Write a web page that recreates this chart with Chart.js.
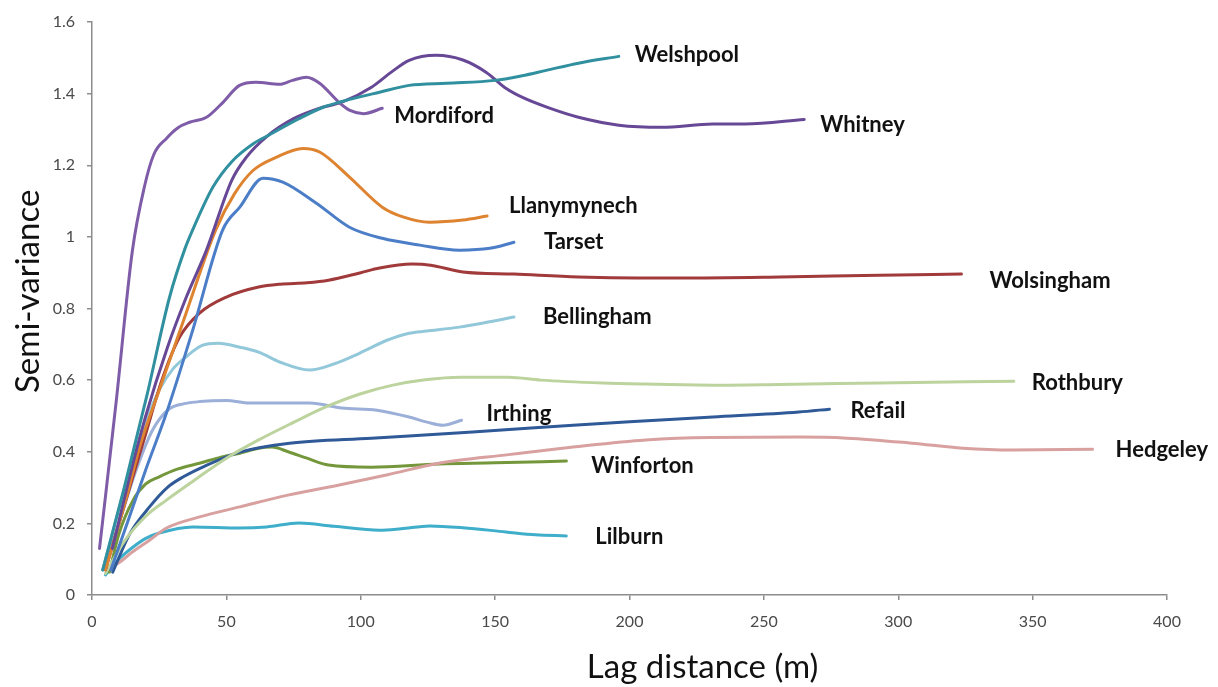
<!DOCTYPE html>
<html>
<head>
<meta charset="utf-8">
<script src="https://cdn.jsdelivr.net/npm/chart.js@4.4.1/dist/chart.umd.min.js"></script>
<style>
  html, body { margin: 0; padding: 0; background: #ffffff; }
  #wrap { width: 1218px; height: 687px; }
</style>
</head>
<body>
<div id="wrap"><canvas id="chart" width="1218" height="687"></canvas></div>
<script>
// Semi-variograms per site: [lag distance (m), semi-variance]
const welshpool = [[4,0.07],[12,0.3],[20.3,0.553],[28.8,0.83],[34.4,0.963],[37.5,1.02],[45,1.139],[52,1.21],[60,1.26],[66,1.285],[77,1.33],[86,1.362],[93,1.378],[107,1.404],[118,1.423],[132,1.429],[150,1.437],[160,1.45],[169,1.465],[181,1.485],[196,1.504]];
const mordiford = [[2.8,0.13],[9,0.54],[15,0.96],[19.5,1.14],[23,1.23],[27.7,1.275],[32,1.305],[36.3,1.32],[42.6,1.334],[48,1.37],[54.9,1.423],[61,1.432],[69.8,1.426],[74.6,1.437],[79.8,1.446],[84.7,1.429],[92,1.375],[96,1.353],[101,1.344],[108,1.359]];
const whitney = [[7.6,0.13],[14,0.33],[20,0.5],[28,0.69],[35,0.83],[42.6,0.963],[52,1.158],[57.4,1.222],[65,1.28],[75,1.33],[85,1.36],[93,1.376],[104,1.418],[111,1.458],[118,1.493],[128,1.507],[138,1.494],[146.6,1.46],[154,1.415],[160,1.39],[170,1.36],[181,1.334],[196,1.312],[212,1.306],[231,1.315],[243,1.315],[265,1.328]];
const llanymynech = [[5,0.07],[12,0.25],[18,0.42],[25,0.572],[35,0.787],[46,1.019],[53,1.12],[60,1.186],[68.5,1.222],[78.5,1.247],[84.7,1.237],[95.8,1.167],[108,1.083],[116,1.055],[125.6,1.041],[138,1.047],[147,1.058]];
const tarset = [[7,0.07],[14,0.22],[20,0.35],[27.7,0.508],[37.5,0.74],[48.6,1.019],[55,1.083],[63.6,1.164],[71,1.153],[83.5,1.094],[95.8,1.027],[108,0.996],[122,0.977],[136.7,0.963],[148,0.968],[157,0.985]];
const wolsingham = [[5,0.07],[12,0.25],[20,0.45],[26,0.6],[32.6,0.72],[40,0.787],[50,0.832],[62,0.86],[70,0.868],[80,0.872],[88,0.879],[100,0.9],[107,0.913],[119,0.924],[126,0.921],[138,0.902],[157,0.896],[181,0.888],[219,0.885],[256,0.888],[293,0.893],[323.5,0.896]];
const bellingham = [[4,0.07],[10,0.24],[16.6,0.413],[25,0.572],[30,0.63],[35,0.665],[41,0.697],[47,0.703],[55,0.692],[62,0.678],[70,0.65],[81,0.628],[90,0.645],[99.5,0.675],[110,0.712],[118,0.731],[124.5,0.737],[136.7,0.748],[146,0.76],[157,0.776]];
const rothbury = [[5,0.06],[12,0.15],[20,0.22],[27.7,0.265],[38,0.32],[50,0.382],[62,0.433],[75,0.482],[87,0.525],[100,0.562],[112,0.586],[124,0.601],[137,0.608],[155,0.608],[167,0.6],[190,0.592],[206,0.589],[231,0.586],[256,0.588],[293,0.592],[343,0.597]];
const refail = [[7.7,0.064],[14,0.17],[21.4,0.246],[28,0.3],[34,0.33],[42,0.36],[55,0.399],[73.5,0.424],[104,0.438],[141.6,0.455],[179,0.474],[200,0.484],[231,0.497],[263,0.511],[274.4,0.519]];
const irthing = [[4,0.07],[10,0.2],[16,0.34],[22.5,0.46],[28.8,0.52],[35,0.535],[40,0.54],[50,0.543],[58.6,0.536],[70,0.536],[81,0.536],[93,0.522],[106,0.516],[118,0.497],[125,0.482],[130.6,0.474],[137.5,0.488]];
const hedgeley = [[5,0.07],[10,0.09],[15,0.12],[21.4,0.153],[27.7,0.187],[40,0.218],[55,0.246],[70,0.274],[92,0.307],[110,0.336],[129,0.368],[155,0.392],[179,0.413],[206,0.433],[230,0.44],[263,0.441],[281,0.438],[305,0.424],[324,0.41],[342.5,0.405],[372.3,0.407]];
const winforton = [[6.5,0.064],[10,0.17],[15.3,0.265],[20,0.31],[25,0.33],[32,0.352],[40,0.368],[48,0.385],[55,0.396],[62,0.41],[67,0.413],[73,0.4],[80,0.382],[88,0.363],[104,0.357],[129,0.366],[150,0.369],[176.5,0.374]];
const lilburn = [[5,0.056],[10,0.1],[15.3,0.134],[20,0.158],[25,0.173],[37.5,0.19],[55,0.187],[65,0.19],[77,0.201],[90,0.192],[107,0.181],[115,0.185],[125.6,0.193],[138,0.188],[154,0.176],[165,0.168],[176.5,0.165]];

const siteNames = ['Welshpool','Mordiford','Whitney','Llanymynech','Tarset','Wolsingham','Bellingham','Rothbury','Refail','Irthing','Hedgeley','Winforton','Lilburn'];
const siteValues = [welshpool, mordiford, whitney, llanymynech, tarset, wolsingham, bellingham, rothbury, refail, irthing, hedgeley, winforton, lilburn];

const xTickLabels = ['0','50','100','150','200','250','300','350','400'];
const yTickLabels = ['0','0.2','0.4','0.6','0.8','1','1.2','1.4','1.6'];

// Line colours and name-label offsets (px from each line's last point)
const lineColors = ['#31909F','#7E5CA8','#674896','#DE8330','#4C7EC8','#A13A3A','#93C8DA','#BCD39E','#2F5997','#9BAFD8','#D9A0A0','#73973A','#3FAECB'];
const labelOffsets = [[16,-1],[12,8],[16,5],[22,-10],[30,0],[28,7],[29,0],[18,2],[21,2],[25,-6],[23,1],[25,5],[29,1]];

const datasets = siteNames.map((name, i) => ({
  label: name,
  data: siteValues[i].map(p => ({ x: p[0], y: p[1] })),
  borderColor: lineColors[i],
  borderWidth: 3,
  pointRadius: 0,
  fill: false,
  cubicInterpolationMode: 'monotone',
  borderCapStyle: 'round',
  borderJoinStyle: 'round'
}));

const AXIS_GREY = '#8c8c8c';
const TICK_TEXT = '#4a4a4a';

// Writes each site's name just past the end of its line
const endLabels = {
  id: 'endLabels',
  afterDatasetsDraw(chart) {
    const ctx = chart.ctx;
    ctx.save();
    ctx.font = 'bold 22px Lato';
    ctx.fillStyle = '#111111';
    ctx.textAlign = 'left';
    ctx.textBaseline = 'middle';
    chart.data.datasets.forEach((ds, i) => {
      const pts = chart.getDatasetMeta(i).data;
      const last = pts[pts.length - 1];
      ctx.fillText(ds.label, last.x + labelOffsets[i][0], last.y + labelOffsets[i][1]);
    });
    ctx.restore();
  }
};

// Axis titles
const axisTitles = {
  id: 'axisTitles',
  afterDraw(chart) {
    const ctx = chart.ctx;
    const area = chart.chartArea;
    ctx.save();
    ctx.fillStyle = '#111111';
    ctx.textAlign = 'center';
    ctx.textBaseline = 'middle';
    ctx.font = '33px Lato';
    ctx.fillText('Lag distance (m)', area.left + (area.right - area.left) * 0.568, 667);
    ctx.translate(28, area.top + (area.bottom - area.top) * 0.47);
    ctx.rotate(-Math.PI / 2);
    ctx.font = '33px Lato';
    ctx.fillText('Semi-variance', 0, 0);
    ctx.restore();
  }
};

new Chart(document.getElementById('chart'), {
  type: 'line',
  data: { datasets },
  options: {
    responsive: false,
    animation: false,
    devicePixelRatio: 1,
    layout: { padding: { left: 0, top: 22, right: 51, bottom: 0 } },
    plugins: { legend: { display: false }, tooltip: { enabled: false } },
    scales: {
      x: {
        type: 'linear',
        min: 0, max: 400,
        afterFit(scale) { scale.height = 92; },
        ticks: {
          stepSize: 50,
          color: TICK_TEXT,
          font: { family: 'Lato', size: 16 },
          padding: 12,
          maxRotation: 0,
          callback: (v, i) => xTickLabels[i]
        },
        grid: { display: true, drawOnChartArea: false, drawTicks: true, tickLength: 5, color: AXIS_GREY, lineWidth: 1.5 },
        border: { display: true, color: AXIS_GREY, width: 1.5 }
      },
      y: {
        type: 'linear',
        min: 0, max: 1.6,
        afterFit(scale) { scale.width = 92; },
        ticks: {
          stepSize: 0.2,
          color: TICK_TEXT,
          font: { family: 'Lato', size: 16 },
          padding: 12,
          callback: (v, i) => yTickLabels[i]
        },
        grid: { display: true, drawOnChartArea: false, drawTicks: true, tickLength: 5, color: AXIS_GREY, lineWidth: 1.5 },
        border: { display: true, color: AXIS_GREY, width: 1.5 }
      }
    }
  },
  plugins: [endLabels, axisTitles]
});
</script>
</body>
</html>
